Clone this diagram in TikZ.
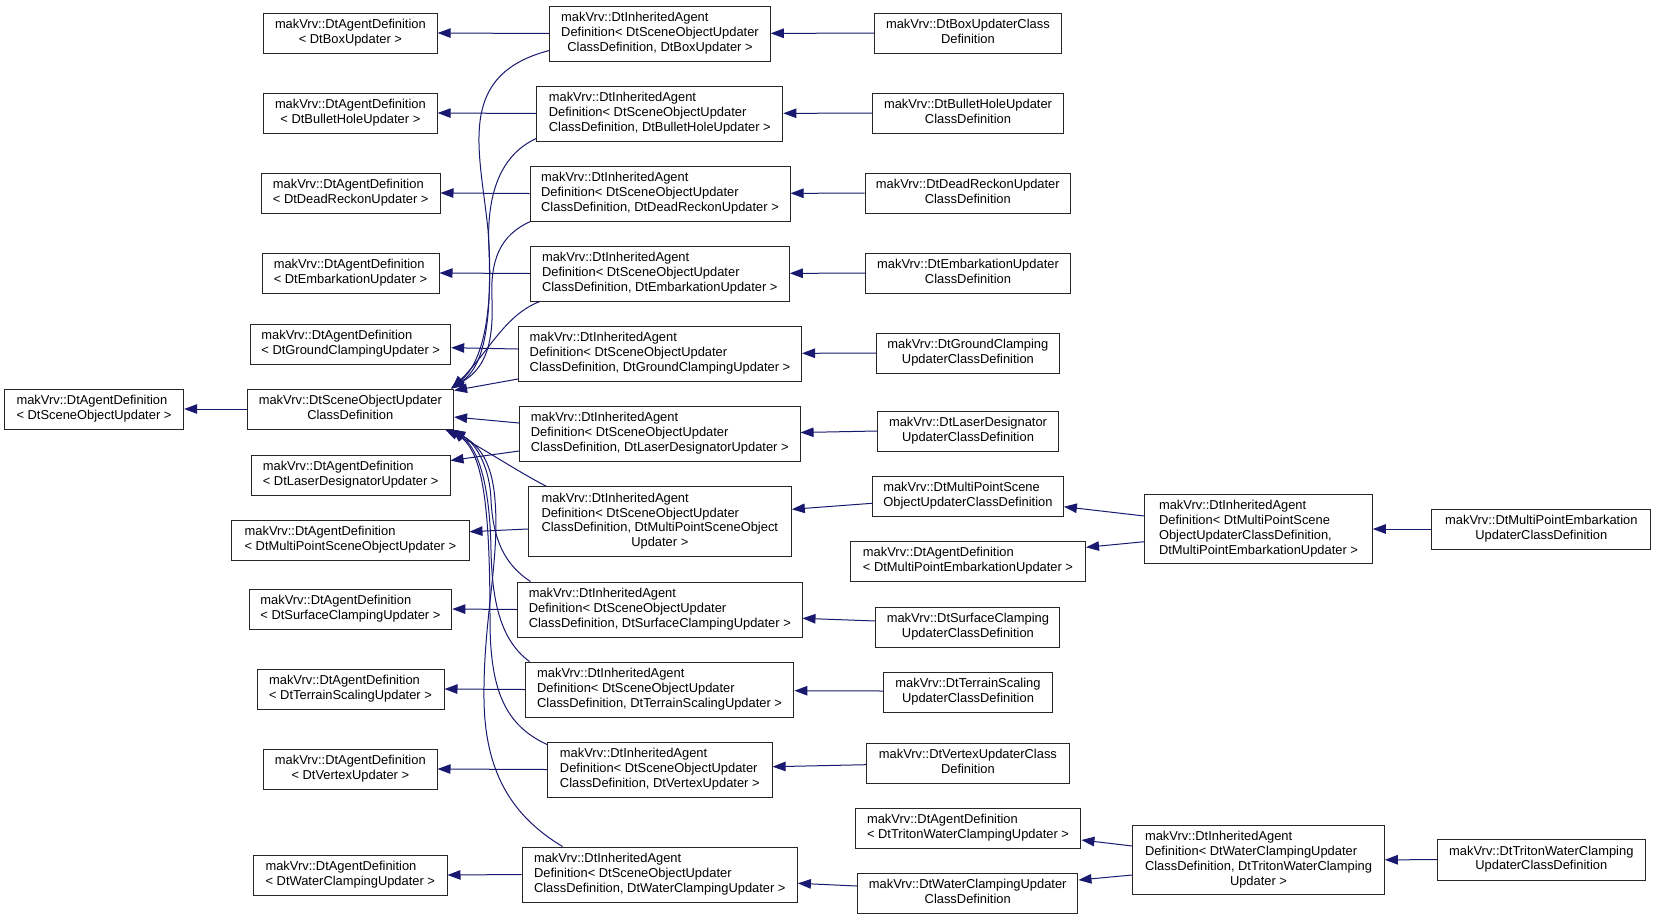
\documentclass[tikz,border=0pt]{standalone}
\usepackage{fontspec}
\setmainfont{Liberation Sans}
\usetikzlibrary{arrows.meta}
\definecolor{edgeblue}{HTML}{191970}
\newcommand{\tx}[2]{\begin{tabular}{@{}l@{}}#1\\\multicolumn{1}{@{}c@{}}{#2}\end{tabular}}
\newcommand{\inhtx}[1]{\tx{makVrv::DtInheritedAgent\\Definition< DtSceneObjectUpdater}{ClassDefinition, #1 >}}
\begin{document}
\begin{tikzpicture}[x=1pt,y=-1pt,
  cls/.style={draw=black!85, line width=1pt, fill=white, inner sep=0pt, font=\fontsize{12.9}{14.7}\selectfont},
  htwo/.style={minimum height=40pt},
  hthree/.style={minimum height=55pt},
  hfour/.style={minimum height=69.5pt},
  inh/.style={draw=edgeblue, line width=1pt, -{Triangle[length=13pt,width=9.5pt]}}]
\useasboundingbox[fill=white] (0,0) rectangle (1656,919);

% column 1
\node[cls,htwo,minimum width=179.3pt] (root) at (94,409) {\tx{makVrv::DtAgentDefinition}{< DtSceneObjectUpdater >}};
% column 2
\node[cls,htwo,minimum width=206.6pt] (sou) at (350.3,409) {\tx{makVrv::DtSceneObjectUpdater}{ClassDefinition}};
\node[cls,htwo,minimum width=173.5pt] (aBox) at (350.4,33) {\tx{makVrv::DtAgentDefinition}{< DtBoxUpdater >}};
\node[cls,htwo,minimum width=173.5pt] (aBullet) at (350.4,113) {\tx{makVrv::DtAgentDefinition}{< DtBulletHoleUpdater >}};
\node[cls,htwo,minimum width=178.6pt] (aDR) at (350.7,193) {\tx{makVrv::DtAgentDefinition}{< DtDeadReckonUpdater >}};
\node[cls,htwo,minimum width=177pt] (aEmb) at (350.5,273) {\tx{makVrv::DtAgentDefinition}{< DtEmbarkationUpdater >}};
\node[cls,htwo,minimum width=200pt] (aGround) at (350.7,344) {\tx{makVrv::DtAgentDefinition}{< DtGroundClampingUpdater >}};
\node[cls,htwo,minimum width=198.6pt] (aLaser) at (350.7,475) {\tx{makVrv::DtAgentDefinition}{< DtLaserDesignatorUpdater >}};
\node[cls,htwo,minimum width=237.2pt] (aMPSO) at (350.4,540) {\tx{makVrv::DtAgentDefinition}{< DtMultiPointSceneObjectUpdater >}};
\node[cls,htwo,minimum width=202.8pt] (aSurface) at (350.4,609) {\tx{makVrv::DtAgentDefinition}{< DtSurfaceClampingUpdater >}};
\node[cls,htwo,minimum width=187pt] (aTerrain) at (350.5,689) {\tx{makVrv::DtAgentDefinition}{< DtTerrainScalingUpdater >}};
\node[cls,htwo,minimum width=173.4pt] (aVertex) at (350.3,769) {\tx{makVrv::DtAgentDefinition}{< DtVertexUpdater >}};
\node[cls,htwo,minimum width=193.4pt] (aWater) at (350.3,875) {\tx{makVrv::DtAgentDefinition}{< DtWaterClampingUpdater >}};
% column 3
\node[cls,hthree,minimum width=220.5pt] (iBox) at (660,33.5) {\inhtx{DtBoxUpdater}};
\node[cls,hthree,minimum width=246pt] (iBullet) at (659.8,113.5) {\inhtx{DtBulletHoleUpdater}};
\node[cls,hthree,minimum width=260pt] (iDR) at (660,193.5) {\inhtx{DtDeadReckonUpdater}};
\node[cls,hthree,minimum width=259pt] (iEmb) at (659.8,273.5) {\inhtx{DtEmbarkationUpdater}};
\node[cls,hthree,minimum width=283pt] (iGround) at (660,353.5) {\inhtx{DtGroundClampingUpdater}};
\node[cls,hthree,minimum width=280.5pt] (iLaser) at (659.8,433.5) {\inhtx{DtLaserDesignatorUpdater}};
\node[cls,hfour,minimum width=263pt] (iMP) at (659.8,521.5) {\tx{makVrv::DtInheritedAgent\\Definition< DtSceneObjectUpdater\\ClassDefinition, DtMultiPointSceneObject}{Updater >}};
\node[cls,hthree,minimum width=284.4pt] (iSurface) at (659.8,609.5) {\inhtx{DtSurfaceClampingUpdater}};
\node[cls,hthree,minimum width=268.6pt] (iTerrain) at (659.6,689.5) {\inhtx{DtTerrainScalingUpdater}};
\node[cls,hthree,minimum width=224.6pt] (iVertex) at (659.8,769.5) {\inhtx{DtVertexUpdater}};
\node[cls,hthree,minimum width=275.2pt] (iWater) at (659.8,874.5) {\inhtx{DtWaterClampingUpdater}};
% column 4
\node[cls,htwo,minimum width=187pt] (cBox) at (967.9,33) {\tx{makVrv::DtBoxUpdaterClass}{Definition}};
\node[cls,htwo,minimum width=191.3pt] (cBullet) at (968,113) {\tx{makVrv::DtBulletHoleUpdater}{ClassDefinition}};
\node[cls,htwo,minimum width=205.6pt] (cDR) at (967.8,193) {\tx{makVrv::DtDeadReckonUpdater}{ClassDefinition}};
\node[cls,htwo,minimum width=204.3pt] (cEmb) at (968,273) {\tx{makVrv::DtEmbarkationUpdater}{ClassDefinition}};
\node[cls,htwo,minimum width=182.5pt] (cGround) at (967.9,353) {\tx{makVrv::DtGroundClamping}{UpdaterClassDefinition}};
\node[cls,htwo,minimum width=180.7pt] (cLaser) at (968,431) {\tx{makVrv::DtLaserDesignator}{UpdaterClassDefinition}};
\node[cls,htwo,minimum width=191pt] (cMPSO) at (967.9,496) {\tx{makVrv::DtMultiPointScene}{ObjectUpdaterClassDefinition}};
\node[cls,htwo,minimum width=235pt] (aMPE) at (968,561) {\tx{makVrv::DtAgentDefinition}{< DtMultiPointEmbarkationUpdater >}};
\node[cls,htwo,minimum width=184pt] (cSurface) at (967.9,627) {\tx{makVrv::DtSurfaceClamping}{UpdaterClassDefinition}};
\node[cls,htwo,minimum width=168.3pt] (cTerrain) at (968,692) {\tx{makVrv::DtTerrainScaling}{UpdaterClassDefinition}};
\node[cls,htwo,minimum width=203.3pt] (cVertex) at (967.9,763) {\tx{makVrv::DtVertexUpdaterClass}{Definition}};
\node[cls,htwo,minimum width=225.8pt] (aTriton) at (968,828) {\tx{makVrv::DtAgentDefinition}{< DtTritonWaterClampingUpdater >}};
\node[cls,htwo,minimum width=220.5pt] (cWater) at (967.7,893) {\tx{makVrv::DtWaterClampingUpdater}{ClassDefinition}};
% column 5
\node[cls,hfour,minimum width=227.6pt] (iMPE) at (1258.5,529) {\tx{makVrv::DtInheritedAgent\\Definition< DtMultiPointScene\\ObjectUpdaterClassDefinition,}{DtMultiPointEmbarkationUpdater >}};
\node[cls,hfour,minimum width=251.6pt] (iTriton) at (1258.5,860) {\tx{makVrv::DtInheritedAgent\\Definition< DtWaterClampingUpdater\\ClassDefinition, DtTritonWaterClamping}{Updater >}};
% column 6
\node[cls,htwo,minimum width=218.7pt] (cMPE) at (1541.3,529) {\tx{makVrv::DtMultiPointEmbarkation}{UpdaterClassDefinition}};
\node[cls,minimum height=41pt,minimum width=208pt] (cTriton) at (1541.3,859.5) {\tx{makVrv::DtTritonWaterClamping}{UpdaterClassDefinition}};

% straight edges
\draw[inh] (sou) -- (root);
\draw[inh] (iBox.west) -- (aBox.east);
\draw[inh] (iBullet.west) -- (aBullet.east);
\draw[inh] (iDR.west) -- (aDR.east);
\draw[inh] (iEmb.west) -- (aEmb.east);
\draw[inh] ([shift={(0,-4.5)}]iGround.west) -- ([shift={(0,3.7)}]aGround.east);
\draw[inh] ([shift={(0,-2.5)}]iGround.south west) -- ([shift={(0,2)}]sou.north east);
\draw[inh] ([shift={(0,-10.5)}]iLaser.west) -- ([shift={(0,8)}]sou.east);
\draw[inh] ([shift={(0,17.5)}]iLaser.west) -- ([shift={(0,-14.5)}]aLaser.east);
\draw[inh] ([shift={(0,7.5)}]iMP.west) -- ([shift={(0,-8.3)}]aMPSO.east);
\draw[inh] (iSurface.west) -- (aSurface.east);
\draw[inh] (iTerrain.west) -- (aTerrain.east);
\draw[inh] (iVertex.west) -- (aVertex.east);
\draw[inh] (iWater.west) -- (aWater.east);
\draw[inh] (cBox) -- (iBox);
\draw[inh] (cBullet) -- (iBullet);
\draw[inh] (cDR) -- (iDR);
\draw[inh] (cEmb) -- (iEmb);
\draw[inh] (cGround) -- (iGround);
\draw[inh] (cLaser.west) -- ([shift={(0,-1)}]iLaser.east);
\draw[inh] ([shift={(0,7.3)}]cMPSO.west) -- ([shift={(0,-12.2)}]iMP.east);
\draw[inh] ([shift={(0,-13)}]iMPE.west) -- ([shift={(0,10.7)}]cMPSO.east);
\draw[inh] ([shift={(0,12.7)}]iMPE.west) -- ([shift={(0,-13.7)}]aMPE.east);
\draw[inh] (cMPE) -- (iMPE);
\draw[inh] ([shift={(0,-6)}]cSurface.west) -- ([shift={(0,8.8)}]iSurface.east);
\draw[inh] ([shift={(0,-1)}]cTerrain.west) -- ([shift={(0,1.2)}]iTerrain.east);
\draw[inh] ([shift={(0,1.7)}]cVertex.west) -- ([shift={(0,-2.8)}]iVertex.east);
\draw[inh] ([shift={(0,-7)}]cWater.west) -- ([shift={(0,8.8)}]iWater.east);
\draw[inh] ([shift={(0,-14)}]iTriton.west) -- ([shift={(0,12)}]aTriton.east);
\draw[inh] ([shift={(0,15)}]iTriton.west) -- ([shift={(0,-13)}]cWater.east);
\draw[inh] (cTriton) -- (iTriton);

% curved edges to the top of sou
\draw[inh] ([shift={(0,-11)}]iBox.south west) .. controls (455,75) and (480,150) .. (488,230) .. controls (495,320) and (480,365) .. ([shift={(-3,0)}]sou.north east);
\draw[inh] ([shift={(0,-3)}]iBullet.south west) .. controls (500,155) and (486,195) .. (489,250) .. controls (492,330) and (482,368) .. ([shift={(-3,0)}]sou.north east);
\draw[inh] ([shift={(1,0)}]iDR.south west) .. controls (500,235) and (490,260) .. (492,300) .. controls (494,350) and (482,370) .. ([shift={(-3,0)}]sou.north east);
\draw[inh] ([shift={(10,0)}]iEmb.south west) .. controls (505,315) and (490,350) .. ([shift={(-2,0)}]sou.north east);

% curved edges to the bottom of sou
\draw[inh] ([shift={(18.4,0)}]iMP.north west) .. controls (515,470) and (478,445) .. ([shift={(-9,0)}]sou.south east);
\draw[inh] ([shift={(13.4,0)}]iSurface.north west) .. controls (505,565) and (493,540) .. (491,500) .. controls (490,470) and (478,445) .. ([shift={(-2,0)}]sou.south east);
\draw[inh] ([shift={(4.7,0)}]iTerrain.north west) .. controls (500,640) and (492,600) .. (491,550) .. controls (490,490) and (480,450) .. ([shift={(-2,0)}]sou.south east);
\draw[inh] ([shift={(0,3)}]iVertex.north west) .. controls (505,725) and (490,690) .. (490,620) .. controls (490,500) and (482,455) .. ([shift={(-2,0)}]sou.south east);
\draw[inh] ([shift={(40.8,0)}]iWater.north west) .. controls (510,815) and (485,770) .. (484,700) .. controls (483,620) and (500,560) .. (495,500) .. controls (492,460) and (478,445) .. ([shift={(-2,0)}]sou.south east);
\end{tikzpicture}
\end{document}
